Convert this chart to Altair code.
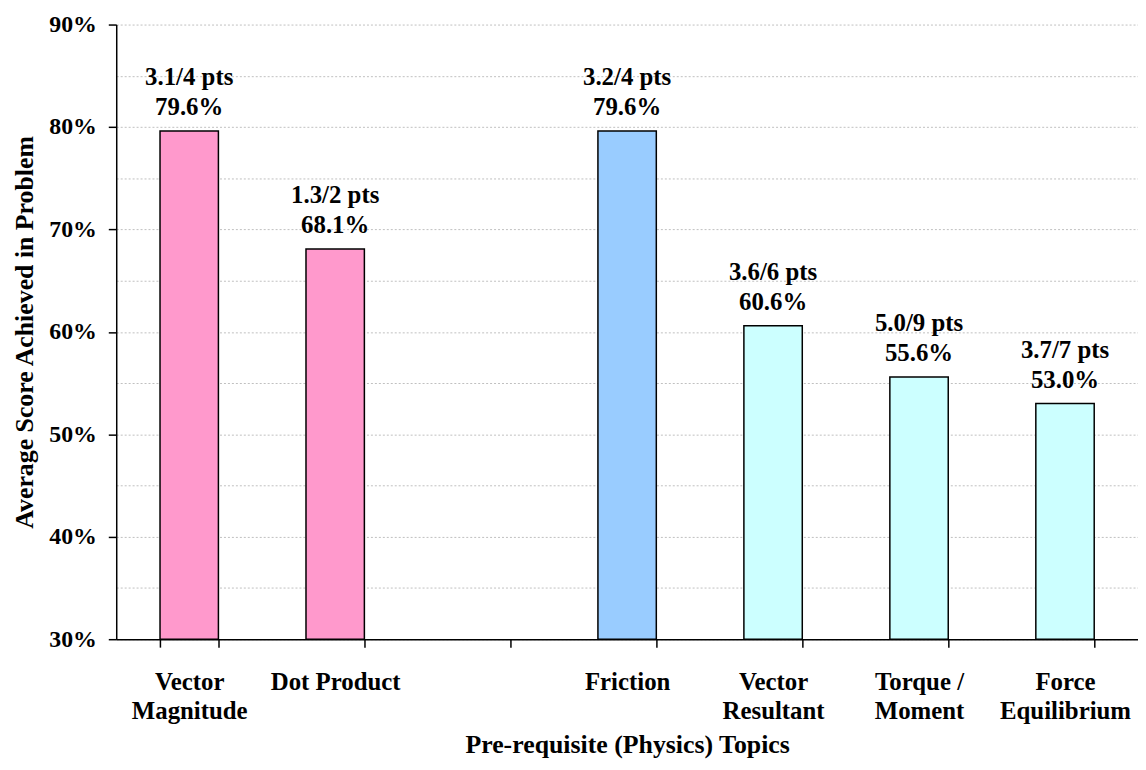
import altair as alt
import pandas as pd

# ---- data ----
topics = ["Vector\nMagnitude", "Dot Product", " ", "Friction",
          "Vector\nResultant", "Torque /\nMoment", "Force\nEquilibrium"]
bar_topics = ["Vector\nMagnitude", "Dot Product", "Friction",
              "Vector\nResultant", "Torque /\nMoment", "Force\nEquilibrium"]
groups = ["Math", "Math", "Physics A", "Physics B", "Physics B", "Physics B"]
scores = [0.796, 0.681, 0.796, 0.606, 0.556, 0.530]
pts_earned = [3.1, 1.3, 3.2, 3.6, 5.0, 3.7]
pts_possible = [4, 2, 4, 6, 9, 7]
y_ticks = [0.30, 0.35, 0.40, 0.45, 0.50, 0.55, 0.60, 0.65, 0.70, 0.75, 0.80, 0.85, 0.90]
y_domain = [0.30, 0.90]

df = pd.DataFrame({
    "topic": bar_topics,
    "group": groups,
    "score": scores,
    "earned": pts_earned,
    "possible": pts_possible,
})

FONT = "Liberation Serif"

x_enc = alt.X(
    "topic:N",
    sort=topics,
    scale=alt.Scale(domain=topics, paddingInner=0.6, paddingOuter=0.3),
    axis=alt.Axis(
        title="Pre-requisite (Physics) Topics",
        labelAngle=0,
        labelExpr="split(datum.label, '\\n')",
        labelLineHeight=29,
        labelPadding=23,
        labelFontSize=25,
        titleFontSize=26,
        titlePadding=8,
        tickBand="extent",
        tickSize=8,
        grid=False,
    ),
)

y_enc = alt.Y(
    "score:Q",
    scale=alt.Scale(domain=y_domain, nice=False, zero=False),
    axis=alt.Axis(
        title="Average Score Achieved in Problem",
        values=y_ticks,
        labelExpr="round(datum.value * 100) % 10 == 0 ? format(datum.value, '.0%') : ''",
        tickOpacity={"condition": {"test": "round(datum.value * 100) % 10 == 0", "value": 1}, "value": 0},
        tickSize=8,
        labelPadding=12,
        labelFontSize=24,
        titleFontSize=26,
        titlePadding=11,
        grid=True,
        gridColor="#c0c0c0",
        gridDash=[2, 2],
        gridWidth=1,
    ),
)

bars = alt.Chart(df).mark_bar(stroke="black", strokeWidth=1.5).encode(
    x=x_enc,
    y=y_enc,
    y2=alt.datum(y_domain[0]),
    color=alt.Color(
        "group:N",
        scale=alt.Scale(domain=["Math", "Physics A", "Physics B"],
                        range=["#FF99CC", "#99CCFF", "#CCFFFF"]),
        legend=None,
    ),
)

labels = alt.Chart(df).transform_calculate(
    lbl="format(datum.earned, '.1f') + '/' + datum.possible + ' pts\\n' + format(datum.score, '.1%')"
).mark_text(
    baseline="alphabetic", dy=-46, fontSize=25, fontWeight="bold", font=FONT,
    lineBreak="\n", lineHeight=30, color="black",
).encode(
    x=alt.X("topic:N", sort=topics),
    y=alt.Y("score:Q"),
    text="lbl:N",
)

chart = alt.layer(bars, labels).properties(
    width=1029,
    height=619,
    autosize=alt.AutoSizeParams(type="none"),
    padding={"left": 109, "top": 14, "right": 0, "bottom": 121},
    background="white",
).configure_view(
    stroke=None,
).configure_axis(
    labelFont=FONT,
    titleFont=FONT,
    labelFontWeight="bold",
    titleFontWeight="bold",
    labelColor="black",
    titleColor="black",
    domainColor="black",
    domainWidth=1.5,
    tickColor="black",
    tickWidth=1.5,
)

chart.save("out.html", embed_options={"renderer": "svg", "actions": False})
